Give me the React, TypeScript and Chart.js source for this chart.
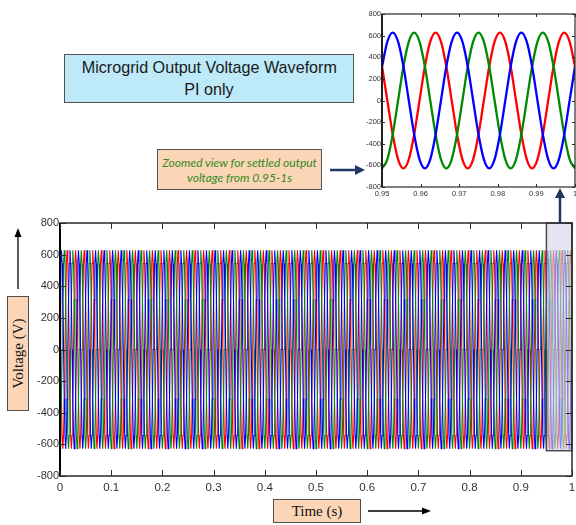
import React, { useEffect, useRef } from "react";
import { Chart, registerables } from "chart.js";

Chart.register(...registerables);

// ---- Data ----
// One 60 Hz cycle of the phase voltage, sampled every 30 degrees, starting at the positive peak (V)
const CYCLE_SAMPLES_V = [628, 544, 314, 0, -314, -544, -628, -544, -314, 0, 314, 544];
const SAMPLE_STEP_S = 1 / 720; // 30 degrees at 60 Hz
const TOTAL_SAMPLES = 720; // 0 .. 1 s
const PHASE_NAMES = ["Phase A", "Phase B", "Phase C"];
const PHASE_COLORS = ["#0000ff", "#008a00", "#ff0000"];
const PHASE_PEAK_SAMPLE = [2, 6, 10]; // sample index of first positive peak per phase

const MAIN_X_TICKS = [0, 0.1, 0.2, 0.3, 0.4, 0.5, 0.6, 0.7, 0.8, 0.9, 1];
const MAIN_Y_TICKS = [-800, -600, -400, -200, 0, 200, 400, 600, 800];
const INSET_X_TICKS = [0.95, 0.96, 0.97, 0.98, 0.99, 1];
const INSET_Y_TICKS = [-800, -600, -400, -200, 0, 200, 400, 600, 800];

const ZOOM_START_S = 0.95;
const ZOOM_END_S = 1.0;
const ZOOM_BOX_TOP_V = 800;
const ZOOM_BOX_BOTTOM_V = -640;

const TITLE_LINES = ["Microgrid Output Voltage Waveform", "PI only"];
const NOTE_LINES = ["Zoomed view for settled output", "voltage from 0.95-1s"];
const Y_LABEL = "Voltage (V)";
const X_LABEL = "Time (s)";

function buildSeries(phase: number, fromK: number, toK: number) {
  const pts: { x: number; y: number }[] = [];
  const n = CYCLE_SAMPLES_V.length;
  for (let k = fromK; k <= toK; k++) {
    const idx = (((k - PHASE_PEAK_SAMPLE[phase]) % n) + n) % n;
    pts.push({ x: k * SAMPLE_STEP_S, y: CYCLE_SAMPLES_V[idx] });
  }
  return pts;
}

const fmt = (v: number) => parseFloat(v.toFixed(2)).toString();

function framePlugin(tickLen: number, lw: number, leftLw: number) {
  return {
    id: "matlabFrame",
    afterDraw(chart: any) {
      const { ctx, chartArea: a, scales } = chart;
      const xs = scales.x;
      const ys = scales.y;
      ctx.save();
      ctx.strokeStyle = "#2a2a2a";
      ctx.lineWidth = lw;
      ctx.strokeRect(a.left, a.top, a.right - a.left, a.bottom - a.top);
      ctx.strokeStyle = "#000";
      ctx.lineWidth = leftLw;
      ctx.beginPath();
      ctx.moveTo(a.left, a.top);
      ctx.lineTo(a.left, a.bottom);
      ctx.stroke();
      ctx.strokeStyle = "#2a2a2a";
      ctx.beginPath();
      xs.ticks.forEach((t: any) => {
        const px = Math.round(xs.getPixelForValue(t.value)) + 0.5;
        ctx.moveTo(px, a.bottom);
        ctx.lineTo(px, a.bottom - tickLen);
        ctx.moveTo(px, a.top);
        ctx.lineTo(px, a.top + tickLen);
      });
      ys.ticks.forEach((t: any) => {
        const py = Math.round(ys.getPixelForValue(t.value)) + 0.5;
        ctx.moveTo(a.left, py);
        ctx.lineTo(a.left + tickLen, py);
        ctx.moveTo(a.right, py);
        ctx.lineTo(a.right - tickLen, py);
      });
      ctx.lineWidth = 1;
      ctx.stroke();
      ctx.restore();
    },
  };
}

const zoomBoxPlugin = {
  id: "zoomBox",
  afterDatasetsDraw(chart: any) {
    const { ctx, scales } = chart;
    const x0 = scales.x.getPixelForValue(ZOOM_START_S);
    const x1 = scales.x.getPixelForValue(ZOOM_END_S);
    const y0 = scales.y.getPixelForValue(ZOOM_BOX_TOP_V);
    const y1 = scales.y.getPixelForValue(ZOOM_BOX_BOTTOM_V);
    ctx.save();
    ctx.fillStyle = "rgba(212,212,232,0.62)";
    ctx.fillRect(x0, y0, x1 - x0, y1 - y0);
    ctx.strokeStyle = "#4a4a4a";
    ctx.lineWidth = 1.5;
    ctx.strokeRect(x0, y0, x1 - x0, y1 - y0);
    ctx.restore();
  },
};

function axisOpts(ticksArr: number[], min: number, max: number, fontSize: number, pad: number, fitKey: "width" | "height", fitVal: number) {
  return {
    type: "linear" as const,
    min,
    max,
    grid: { display: false, drawTicks: false },
    border: { display: false },
    afterBuildTicks: (s: any) => {
      s.ticks = ticksArr.map((v) => ({ value: v }));
    },
    afterFit: (s: any) => {
      s[fitKey] = fitVal;
      s.paddingLeft = 0;
      s.paddingRight = 0;
      s.paddingTop = 0;
      s.paddingBottom = 0;
    },
    ticks: {
      autoSkip: false,
      maxRotation: 0,
      padding: pad,
      color: "#333",
      font: { family: "'Liberation Sans', Arial, sans-serif", size: fontSize },
      callback: (v: any) => fmt(Number(v)),
    },
  };
}

function MainChart() {
  const ref = useRef<HTMLCanvasElement>(null);
  useEffect(() => {
    const chart = new Chart(ref.current!, {
      type: "line",
      data: {
        datasets: PHASE_NAMES.map((name, i) => ({
          label: name,
          data: buildSeries(i, 0, TOTAL_SAMPLES),
          borderColor: PHASE_COLORS[i],
          borderWidth: 1.1,
          pointRadius: 0,
          tension: 0,
          fill: false,
        })),
      },
      options: {
        responsive: false,
        animation: false,
        devicePixelRatio: 1,
        parsing: false,
        normalized: true,
        layout: { padding: { left: 0, right: 4, top: 18, bottom: 0 } },
        plugins: { legend: { display: false }, tooltip: { enabled: false } },
        scales: {
          x: axisOpts(MAIN_X_TICKS, 0, 1, 11.5, 5, "height", 49),
          y: axisOpts(MAIN_Y_TICKS, -800, 800, 11, 1, "width", 60),
        },
      } as any,
      plugins: [zoomBoxPlugin, framePlugin(6, 1.5, 2)],
    });
    return () => chart.destroy();
  }, []);
  return <canvas ref={ref} width={576} height={320} style={{ position: "absolute", left: 0, top: 205, width: 576, height: 320 }} />;
}

function InsetChart() {
  const ref = useRef<HTMLCanvasElement>(null);
  useEffect(() => {
    const from = Math.round(ZOOM_START_S / SAMPLE_STEP_S);
    const chart = new Chart(ref.current!, {
      type: "line",
      data: {
        datasets: PHASE_NAMES.map((name, i) => ({
          label: name,
          data: buildSeries(i, from, TOTAL_SAMPLES),
          borderColor: PHASE_COLORS[i],
          borderWidth: 2.3,
          pointRadius: 0,
          cubicInterpolationMode: "monotone" as const,
          fill: false,
        })),
      },
      options: {
        responsive: false,
        animation: false,
        devicePixelRatio: 1,
        parsing: false,
        layout: { padding: { left: 0, right: 1, top: 14, bottom: 0 } },
        plugins: { legend: { display: false }, tooltip: { enabled: false } },
        scales: {
          x: axisOpts(INSET_X_TICKS, ZOOM_START_S, ZOOM_END_S, 7.5, 2, "height", 13),
          y: axisOpts(INSET_Y_TICKS, -800, 800, 7.5, 1, "width", 27),
        },
      } as any,
      plugins: [framePlugin(3, 1.2, 1.5)],
    });
    return () => chart.destroy();
  }, []);
  return <canvas ref={ref} width={221} height={200} style={{ position: "absolute", left: 355, top: 0, width: 221, height: 200 }} />;
}

const box: React.CSSProperties = {
  position: "absolute",
  boxSizing: "border-box",
  border: "1.5px solid #505050",
  display: "flex",
  flexDirection: "column",
  alignItems: "center",
  justifyContent: "center",
  whiteSpace: "nowrap",
};

export default function App() {
  return (
    <div style={{ position: "fixed", left: 0, top: 0, width: 576, height: 525, background: "#fff", overflow: "hidden" }}>
      <MainChart />
      <InsetChart />
      <div
        style={{
          ...box,
          left: 64,
          top: 54,
          width: 290,
          height: 49,
          background: "#bde9f9",
          fontFamily: "'Liberation Sans', Arial, sans-serif",
          fontSize: 17,
          lineHeight: "22px",
          color: "#1a1a1a",
        }}
      >
        {TITLE_LINES.map((t) => (
          <div key={t} style={{ transform: "scaleX(0.95)" }}>{t}</div>
        ))}
      </div>
      <div
        style={{
          ...box,
          left: 157,
          top: 149,
          width: 165,
          height: 41,
          background: "#fbd5b5",
          fontFamily: "Lato, 'Open Sans', sans-serif",
          fontStyle: "italic",
          fontSize: 12,
          lineHeight: "15px",
          color: "#2f8a1f",
        }}
      >
        {NOTE_LINES.map((t) => (
          <div key={t}>{t}</div>
        ))}
      </div>
      <div
        style={{
          ...box,
          left: 7,
          top: 296,
          width: 22,
          height: 115,
          background: "#fbd5b5",
          fontFamily: "'Liberation Serif', 'Times New Roman', serif",
          fontSize: 15,
          color: "#111",
        }}
      >
        <div style={{ transform: "rotate(-90deg)" }}>{Y_LABEL}</div>
      </div>
      <div
        style={{
          ...box,
          left: 273,
          top: 499,
          width: 88,
          height: 24,
          background: "#fbd5b5",
          fontFamily: "'Liberation Serif', 'Times New Roman', serif",
          fontSize: 15,
          color: "#111",
        }}
      >
        {X_LABEL}
      </div>
      <svg width={576} height={525} style={{ position: "absolute", left: 0, top: 0, pointerEvents: "none" }}>
        {/* navy arrow from note to inset */}
        <line x1={330} y1={170} x2={357} y2={170} stroke="#1f3864" strokeWidth={2.5} />
        <polygon points="365,170 355,165 355,175" fill="#1f3864" />
        {/* navy arrow from zoom box to inset */}
        <line x1={560} y1={223} x2={560} y2={196} stroke="#1f3864" strokeWidth={2.5} />
        <polygon points="560,188 555,198 565,198" fill="#1f3864" />
        {/* voltage arrow */}
        <line x1={18} y1={289} x2={18} y2={235} stroke="#000" strokeWidth={1.3} />
        <polygon points="18,228 14.5,237 21.5,237" fill="#000" />
        {/* time arrow */}
        <line x1={368} y1={511} x2={424} y2={511} stroke="#000" strokeWidth={1.3} />
        <polygon points="431,511 422,507.5 422,514.5" fill="#000" />
      </svg>
    </div>
  );
}
